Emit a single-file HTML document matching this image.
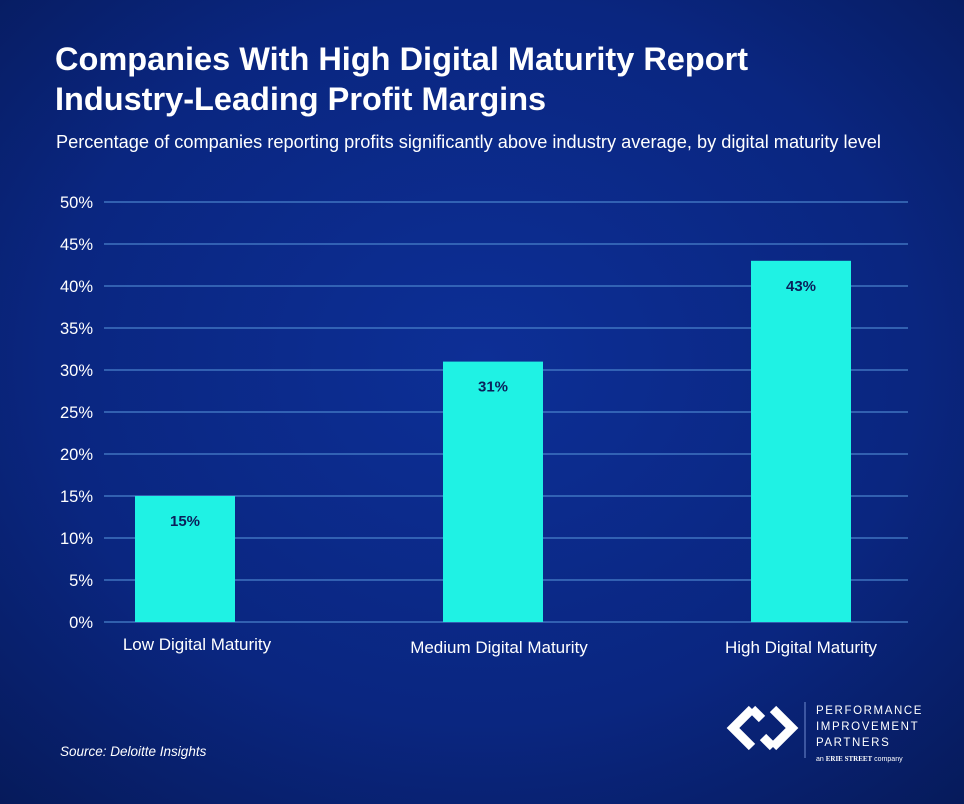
<!DOCTYPE html>
<html><head><meta charset="utf-8"><style>
html,body{margin:0;padding:0;}
body{width:964px;height:804px;overflow:hidden;background:#0a2478;font-family:"Liberation Sans",sans-serif;}
svg{display:block;}
</style></head><body>
<svg id="chart" width="964" height="804" xmlns="http://www.w3.org/2000/svg">
<defs>
<radialGradient id="bg" cx="50%" cy="45%" r="75%">
<stop offset="0" stop-color="#0d2f96"/><stop offset="0.6" stop-color="#0a2680"/><stop offset="1" stop-color="#061a5a"/>
</radialGradient>
</defs>
<rect width="964" height="804" fill="url(#bg)"/>
<text x="55" y="70" fill="#fff" font-size="32.5" font-weight="bold">Companies With High Digital Maturity Report</text>
<text x="55" y="110" fill="#fff" font-size="32.5" font-weight="bold">Industry-Leading Profit Margins</text>
<text x="56" y="148" fill="#fff" font-size="18.2">Percentage of companies reporting profits significantly above industry average, by digital maturity level</text>
<g id="grid"></g>
<g id="bars"></g>
<text x="60" y="756" fill="#fff" font-size="13.5" font-style="italic">Source: Deloitte Insights</text>
<g>
<g fill="none" stroke="#fff" stroke-width="9" stroke-linejoin="miter">
<path d="M752 709 L733 728 L752 747"/>
<path d="M752 709 L762 719"/>
<path d="M773 747 L792 728 L773 709"/>
<path d="M773 747 L763 737"/>
</g>
<line x1="805" y1="702" x2="805" y2="758" stroke="#6f8bd0" stroke-width="1"/>
<text x="816" y="714" fill="#fff" font-size="11.5" letter-spacing="1.6">PERFORMANCE</text>
<text x="816" y="730" fill="#fff" font-size="11.5" letter-spacing="1.6">IMPROVEMENT</text>
<text x="816" y="746" fill="#fff" font-size="11.5" letter-spacing="1.6">PARTNERS</text>
<text x="816" y="761" fill="#fff" font-size="7">an <tspan font-family="Liberation Serif" font-weight="bold">ERIE STREET</tspan> company</text>
</g>
</svg>
<script>
const categories=["Low Digital Maturity","Medium Digital Maturity","High Digital Maturity"];
const values=[15,31,43];
const valueLabels=["15%","31%","43%"];
const ticks=[0,5,10,15,20,25,30,35,40,45,50];
const tickLabels=["0%","5%","10%","15%","20%","25%","30%","35%","40%","45%","50%"];
const NS="http://www.w3.org/2000/svg";
const y0=622,y1=202,yMax=50;
const y=v=>y0-(v/yMax)*(y0-y1);
const xc=i=>185+i*308;
const grid=document.getElementById('grid'),bars=document.getElementById('bars');
function mk(t,a,p){const e=document.createElementNS(NS,t);for(const k in a)e.setAttribute(k,a[k]);p.appendChild(e);return e;}
ticks.forEach((t,i)=>{
 const l=mk('line',{x1:104,x2:908,y1:y(t),y2:y(t),stroke:'#4a82cc','stroke-width':1.2},grid);
 
 
 const tx=mk('text',{x:93,y:y(t)+6,fill:'#fff','font-size':16.5,'text-anchor':'end'},grid);
 tx.textContent=tickLabels[i];
 
 
});
values.forEach((v,i)=>{
 const r=mk('rect',{x:xc(i)-50,y:y(v),width:100,height:y0-y(v),fill:'#1ff2e4'},bars);
 
 
 const vl=mk('text',{x:xc(i),y:y(v)+30,fill:'#0b1f5a','font-size':15,'font-weight':'bold','text-anchor':'middle'},bars);
 vl.textContent=valueLabels[i];
 
 
 const cl=mk('text',{x:xc(i)+12-6*i,y:y0+28+(i>0?3:0),fill:'#fff','font-size':17,'text-anchor':'middle'},bars);
 cl.textContent=categories[i];
 
 
});
</script>
</body></html>
